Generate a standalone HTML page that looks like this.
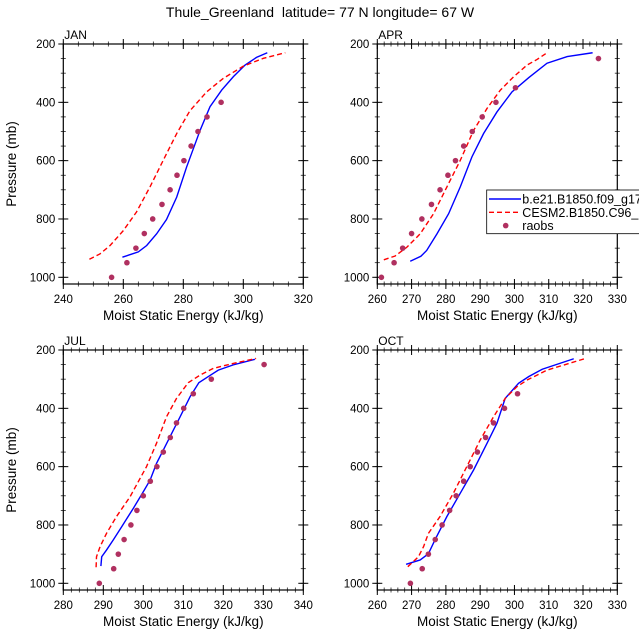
<!DOCTYPE html>
<html><head><meta charset="utf-8"><style>
body{margin:0;background:#fff;}
svg{display:block;font-family:"Liberation Sans",sans-serif;}
</style></head><body>
<svg id="chart" width="639" height="639" viewBox="0 0 639 639">
<text x="320" y="17" font-size="14" text-anchor="middle">Thule_Greenland&#160; latitude= 77 N longitude= 67 W</text>
</svg>
<script>
const pressureTicks=[200,400,600,800,1000];
const janXTicks=[240,260,280,300,320];
const aprXTicks=[260,270,280,290,300,310,320,330];
const julXTicks=[280,290,300,310,320,330,340];
const octXTicks=[260,270,280,290,300,310,320,330];
const obsP=[1000,950,900,850,800,750,700,650,600,550,500,450,400,350,300,250];
const janObs=[256.1,261.2,264.2,267,269.8,272.9,275.6,277.9,280.2,282.6,284.9,287.9,292.6,null,null,null];
const aprObs=[261.2,264.9,267.4,270,273,275.8,278.3,280.6,282.8,285.2,287.7,290.6,294.6,300.3,null,324.5];
const julObs=[289,292.6,293.75,295.2,296.9,298.4,300,301.75,303.4,305,306.75,308.3,310.1,312.5,317,330.2];
const octObs=[269.65,273.1,274.9,276.9,278.9,281.1,283,285.2,287.1,289.2,291.6,293.9,297.1,300.9,null,null];
const janBlueX=[259.7,265,267.8,271.1,274.4,277.8,281.1,285.6,288.9,292.8,296.7,300.6,304.4,308];
const janBlueP=[931,913,891,851,802,725,622,496,415,358,312,272,246,230];
const janRedX=[248.7,252.2,255.6,260,264.4,268.9,273.3,277.8,282.2,287.8,293.3,300,306.7,314];
const janRedP=[938,920,891,840,776,690,599,507,429,364,318,276,249,230];
const aprBlueX=[269.6,272.7,274.4,277.4,280.8,284.2,287.6,291,294.9,299.3,304.2,309.5,315.4,322.8];
const aprBlueP=[945,928,908,851,782,690,587,507,433,364,315,266,243,230];
const aprRedX=[261.9,265.2,268.6,272.5,276.4,280.3,284.2,288.1,292,295.9,299.8,303.7,306.6,309.5];
const aprRedP=[940,927,897,851,782,690,599,496,421,358,312,272,253,230];
const julBlueX=[289.4,289.6,290.8,292.5,294.6,297.5,300,301.7,303.3,305,306.7,309.2,311.7,313.9,316.25,318.75,322.5,327.9];
const julBlueP=[941,909,886,851,806,743,686,646,589,543,497,429,360,312,291,269,251,232];
const julRedX=[288.2,288.3,289.2,290.8,293.3,296.7,300.8,303.3,305.8,308.3,311.25,314.2,317.5,322.5,328.2];
const julRedP=[945,909,874,829,771,703,600,520,429,366,312,286,263,246,229];
const octBlueX=[268.4,272.5,274.9,276.9,280.3,284.2,288.1,292,294.9,297.3,301.2,304.2,308.1,317.3];
const octBlueP=[935,920,899,849,771,691,611,520,451,366,314,291,266,230];
const octRedX=[268.9,272,273.5,274.9,278.3,282.2,286.1,290,293.9,297.3,300.7,303.7,309.5,320.7];
const octRedP=[943,909,874,829,771,691,600,509,429,366,326,303,269,229];

const NS='http://www.w3.org/2000/svg';
const svg=document.getElementById('chart');
function mk(tag,attrs,parent){const e=document.createElementNS(NS,tag);for(const k in attrs)e.setAttribute(k,attrs[k]);(parent||svg).appendChild(e);return e;}

const panels=[
 {name:'jan',label:'JAN',x0:63.3,y0:44,xmin:240,xmax:320,ticks:janXTicks,minor:5,obs:janObs,bx:janBlueX,bp:janBlueP,rx:janRedX,rp:janRedP,ytitle:true},
 {name:'apr',label:'APR',x0:377.3,y0:44,xmin:260,xmax:330,ticks:aprXTicks,minor:2,obs:aprObs,bx:aprBlueX,bp:aprBlueP,rx:aprRedX,rp:aprRedP,ytitle:false},
 {name:'jul',label:'JUL',x0:63.3,y0:350,xmin:280,xmax:340,ticks:julXTicks,minor:2,obs:julObs,bx:julBlueX,bp:julBlueP,rx:julRedX,rp:julRedP,ytitle:true},
 {name:'oct',label:'OCT',x0:377.3,y0:350,xmin:260,xmax:330,ticks:octXTicks,minor:2,obs:octObs,bx:octBlueX,bp:octBlueP,rx:octRedX,rp:octRedP,ytitle:false}
];
const W=240,H=240,PTOP=200,PBOT=1000+800*6.7/233.3;

panels.forEach(pn=>{
 const g=mk('g',{});
 
 
 const sx=v=>pn.x0+(v-pn.xmin)/(pn.xmax-pn.xmin)*W;
 const sy=p=>pn.y0+(p-PTOP)/(PBOT-PTOP)*H;
 const bot=pn.y0+H,right=pn.x0+W;
 for(let v=pn.xmin;v<=pn.xmax+1e-6;v+=pn.minor){const x=sx(v);
  mk('line',{x1:x,y1:pn.y0-2.5,x2:x,y2:pn.y0+2.5,stroke:'#000','stroke-width':0.7},g);
  mk('line',{x1:x,y1:bot-2.5,x2:x,y2:bot+2.5,stroke:'#000','stroke-width':0.7},g);}
 for(let p=250;p<=1000;p+=50){const y=sy(p);
  mk('line',{x1:pn.x0-2.5,y1:y,x2:pn.x0+2.5,y2:y,stroke:'#000','stroke-width':0.7},g);
  mk('line',{x1:right-2.5,y1:y,x2:right+2.5,y2:y,stroke:'#000','stroke-width':0.7},g);}
 pn.ticks.forEach(v=>{const x=sx(v);
  mk('line',{x1:x,y1:pn.y0-5,x2:x,y2:pn.y0+5,stroke:'#000','stroke-width':1},g);
  mk('line',{x1:x,y1:bot-5,x2:x,y2:bot+5,stroke:'#000','stroke-width':1},g);
  const t=mk('text',{x:x,y:bot+19,'font-size':11.5,'text-anchor':'middle'},g);t.textContent=v;
  
  });
 pressureTicks.forEach(p=>{const y=sy(p);
  mk('line',{x1:pn.x0-5,y1:y,x2:pn.x0+5,y2:y,stroke:'#000','stroke-width':1},g);
  mk('line',{x1:right-5,y1:y,x2:right+5,y2:y,stroke:'#000','stroke-width':1},g);
  const t=mk('text',{x:pn.x0-8,y:y+4,'font-size':11.5,'text-anchor':'end'},g);t.textContent=p;
  
  });
 const fr=mk('rect',{x:pn.x0,y:pn.y0,width:W,height:H,fill:'none',stroke:'#000','stroke-width':1.2},g);
 
 
 const lb=mk('text',{x:pn.x0+1,y:pn.y0-5,'font-size':12},g);lb.textContent=pn.label;
 
 
 const xt=mk('text',{x:pn.x0+W/2,y:bot+36,'font-size':13.5,'text-anchor':'middle'},g);xt.textContent='Moist Static Energy (kJ/kg)';
 
 
 if(pn.ytitle){const yt=mk('text',{x:0,y:0,'font-size':13.5,'text-anchor':'middle',transform:`translate(16,${pn.y0+H/2}) rotate(-90)`},g);yt.textContent='Pressure (mb)';
  
  }
 const cg=mk('g',{},g);
 const bl=mk('polyline',{points:pn.bx.map((v,i)=>sx(v)+','+sy(pn.bp[i])).join(' '),fill:'none',stroke:'#0000ff','stroke-width':1.4},cg);
 
 
 const rl=mk('polyline',{points:pn.rx.map((v,i)=>sx(v)+','+sy(pn.rp[i])).join(' '),fill:'none',stroke:'#ff0000','stroke-width':1.4,'stroke-dasharray':'5,3'},cg);
 
 
 pn.obs.forEach((v,i)=>{if(v==null)return;
  const c=mk('circle',{cx:sx(v),cy:sy(obsP[i]),r:2.8,fill:'#b03060'},cg);
  
  });
});
const lg=mk('g',{});


mk('rect',{x:486.7,y:190,width:160,height:43.7,fill:'#fff',stroke:'#000','stroke-width':0.8},lg);
const entries=[['b.e21.B1850.f09_g17','#0000ff',null],['CESM2.B1850.C96_','#ff0000','5,3'],['raobs',null,null]];
entries.forEach((e,i)=>{const y=199+i*13.3;
 const eg=mk('g',{},lg);
 
 
 if(e[1]){const a={x1:489,y1:y,x2:521,y2:y,stroke:e[1],'stroke-width':1.4};if(e[2])a['stroke-dasharray']=e[2];mk('line',a,eg);}
 else mk('circle',{cx:505.7,cy:y,r:2.8,fill:'#b03060'},eg);
 const t=mk('text',{x:522.3,y:y+4.5,'font-size':12.5},eg);t.textContent=e[0];});
</script>
</body></html>
